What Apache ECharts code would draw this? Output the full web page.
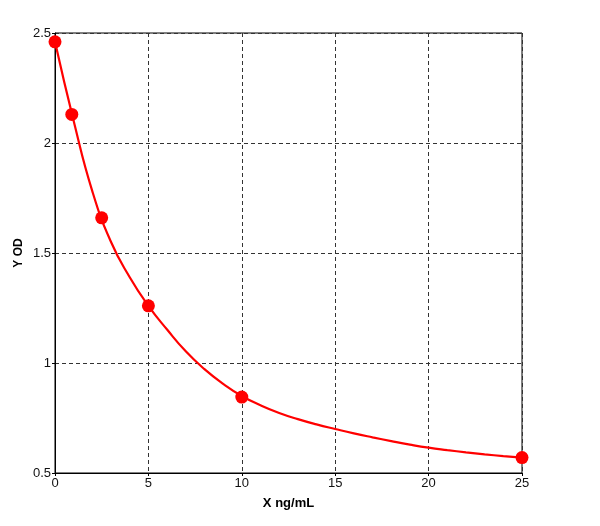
<!DOCTYPE html>
<html>
<head>
<meta charset="utf-8">
<script src="https://cdn.jsdelivr.net/npm/echarts@6/dist/echarts.min.js"></script>
<style>html,body{margin:0;padding:0;background:#fff;}#c{width:600px;height:526px;}</style>
</head>
<body>
<div id="c"></div>
<script>
// Measured standard points
var pointX = [0, 0.9, 2.5, 5, 10, 25];
var pointY = [2.46, 2.13, 1.66, 1.26, 0.845, 0.57];
// Fitted curve at each unit of X
var curveX = [0, 1, 2, 3, 4, 5, 6, 7, 8, 9, 10, 11, 12, 13, 14, 15, 16, 17, 18, 19, 20, 21, 22, 23, 24, 25];
var curveY = [2.46, 2.10, 1.78, 1.55, 1.39, 1.26, 1.152, 1.053, 0.972, 0.905, 0.85, 0.808, 0.773, 0.745, 0.721, 0.70, 0.68, 0.662, 0.645, 0.629, 0.615, 0.604, 0.594, 0.585, 0.577, 0.57];
var xTicks = [0, 5, 10, 15, 20, 25];
var yTicks = [0.5, 1, 1.5, 2, 2.5];

function zip(a, b) { return a.map(function (v, i) { return [v, b[i]]; }); }

var chart = echarts.init(document.getElementById('c'));
var labelFont = { color: '#111', fontSize: 13, fontFamily: 'Liberation Sans, Arial, sans-serif' };
var nameFont = { color: '#000', fontSize: 13, fontWeight: 'bold', fontFamily: 'Liberation Sans, Arial, sans-serif' };
chart.setOption({
  animation: false,
  grid: { left: 55, right: 78, top: 33, bottom: 53, show: true, borderColor: '#000', borderWidth: 1, backgroundColor: '#fff' },
  xAxis: {
    type: 'value', min: xTicks[0], max: xTicks[xTicks.length - 1], interval: 5,
    name: 'X ng/mL', nameLocation: 'middle', nameGap: 24,
    nameTextStyle: nameFont,
    axisLine: { show: true, lineStyle: { color: '#000', width: 1 } },
    axisTick: { show: true, length: 3, lineStyle: { color: '#000' } },
    axisLabel: Object.assign({ margin: 4 }, labelFont),
    splitLine: { show: true, lineStyle: { color: '#333', type: [4, 3], width: 1 } }
  },
  yAxis: {
    type: 'value', min: yTicks[0], max: yTicks[yTicks.length - 1], interval: 0.5,
    name: 'Y OD', nameLocation: 'middle', nameGap: 30, nameMoveOverlap: false,
    nameTextStyle: Object.assign({}, nameFont, { fontSize: 12 }),
    axisLine: { show: true, lineStyle: { color: '#000', width: 1 } },
    axisTick: { show: true, length: 3, lineStyle: { color: '#000' } },
    axisLabel: Object.assign({ margin: 4 }, labelFont),
    splitLine: { show: true, lineStyle: { color: '#333', type: [4, 3], width: 1 } }
  },
  series: [
    {
      type: 'line', data: zip(curveX, curveY), smooth: true, showSymbol: false,
      lineStyle: { color: '#ff0000', width: 2.2 }, z: 3
    },
    {
      type: 'scatter', data: zip(pointX, pointY), symbol: 'circle', symbolSize: 13,
      itemStyle: { color: '#ff0000', opacity: 1 }, clip: false, z: 4
    }
  ]
});
</script>
</body>
</html>
